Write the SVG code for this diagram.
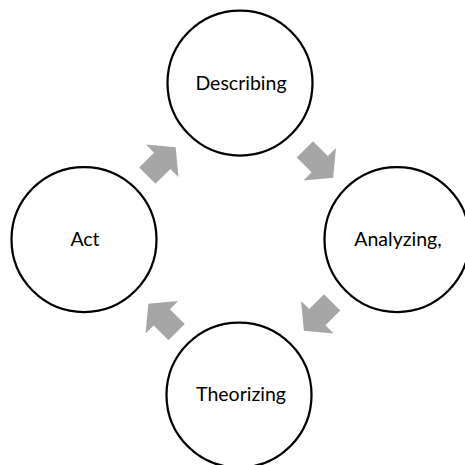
<svg xmlns="http://www.w3.org/2000/svg" width="465" height="465" viewBox="0 0 465 465">
  <style>
    .node circle { fill: #ffffff; stroke: #000000; stroke-width: 2.25; }
    .node text { font-family: Lato, "Open Sans", "Liberation Sans", sans-serif; font-size: 19.5px; fill: #000000; text-anchor: middle; }
    .arrow { fill: #a6a6a6; }
  </style>
  <defs>
    <!-- block arrow pointing along +x, centred on the origin -->
    <polygon id="blockArrow" points="-20,-11.5 1,-11.5 1,-23 20,0 1,23 1,11.5 -20,11.5"/>
  </defs>
  <rect width="465" height="465" fill="#ffffff"/>

  <g id="connectors">
    <use href="#blockArrow" class="arrow" transform="translate(161.5,161.5) rotate(-45)"/>
    <use href="#blockArrow" class="arrow" transform="translate(319,163.5) rotate(45)"/>
    <use href="#blockArrow" class="arrow" transform="translate(318,316.5) rotate(135)"/>
    <use href="#blockArrow" class="arrow" transform="translate(162.5,318) rotate(-135)"/>
  </g>

  <g id="describing" class="node">
    <circle cx="240" cy="83" r="72.5"/>
    <text x="241" y="89.5">Describing</text>
  </g>
  <g id="analyzing" class="node">
    <circle cx="397" cy="239.5" r="72.5"/>
    <text x="398" y="246">Analyzing,</text>
  </g>
  <g id="theorizing" class="node">
    <circle cx="239" cy="395" r="72.5"/>
    <text x="241" y="401">Theorizing</text>
  </g>
  <g id="act" class="node">
    <circle cx="84" cy="239.5" r="72.5"/>
    <text x="85" y="246">Act</text>
  </g>
</svg>
